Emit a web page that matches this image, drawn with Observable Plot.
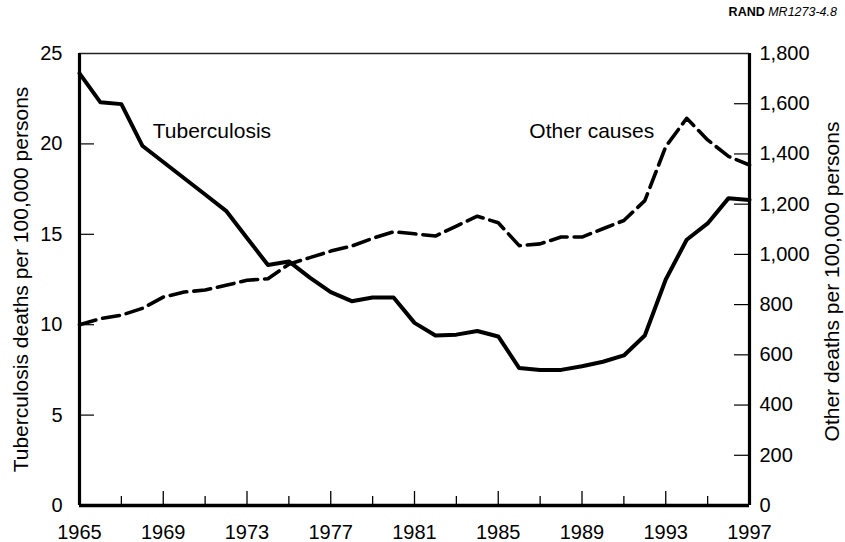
<!DOCTYPE html>
<html>
<head>
<meta charset="utf-8">
<script src="https://cdn.jsdelivr.net/npm/d3@7"></script>
<script src="https://cdn.jsdelivr.net/npm/@observablehq/plot@0.6"></script>
<style>
  html, body { margin: 0; padding: 0; background: #fff; }
  #wrap { position: relative; width: 845px; height: 542px; font-family: "Liberation Sans", Arial, Helvetica, sans-serif; }
  #src { position: absolute; right: 8px; top: 5px; font-size: 12.5px; color: #000; white-space: nowrap; }
  #src b { font-weight: bold; }
  #src i { font-style: italic; }
</style>
</head>
<body>
<div id="wrap"><div id="src"><b>RAND</b> <i>MR1273-4.8</i></div></div>
<script>
const years = d3.range(1965, 1998);
const tuberculosis = [23.9, 22.3, 22.2, 19.9, 19.0, 18.1, 17.2, 16.3, 14.8, 13.3, 13.5, 12.6, 11.8, 11.3, 11.5, 11.5, 10.1, 9.4, 9.45, 9.65, 9.35, 7.6, 7.5, 7.5, 7.7, 7.95, 8.3, 9.4, 12.5, 14.7, 15.6, 17.0, 16.9];
const otherCauses = [720, 744, 758, 785, 830, 850, 858, 877, 897, 903, 961, 987, 1013, 1033, 1064, 1090, 1082, 1073, 1113, 1152, 1126, 1035, 1042, 1069, 1069, 1102, 1135, 1214, 1429, 1542, 1456, 1390, 1356];

const leftTicks = [0, 5, 10, 15, 20, 25];
const rightTicks = [0, 200, 400, 600, 800, 1000, 1200, 1400, 1600, 1800];
const xLabelYears = [1965, 1969, 1973, 1977, 1981, 1985, 1989, 1993, 1997];
const xMajorTickYears = [1969, 1973, 1977, 1981, 1985, 1989, 1993];
const xMinorTickYears = [1967, 1971, 1975, 1979, 1983, 1987, 1991, 1995];

const leftTitle = "Tuberculosis deaths per 100,000 persons";
const rightTitle = "Other deaths per 100,000 persons";
const tbLabel = [{text: "Tuberculosis", year: 1968.5, value: 20.7}];
const otherLabel = [{text: "Other causes", year: 1992.45, value: 20.7}];

const leftMax = 25, rightMax = 1800;
const k = rightMax / leftMax;

const data = years.map((y, i) => ({year: y, tb: tuberculosis[i], other: otherCauses[i]}));

const W = 845, H = 542, mL = 79, mR = 96, mT = 53, mB = 37;
const pw = W - mL - mR, ph = H - mT - mB;
const font = "Liberation Sans, Arial, Helvetica, sans-serif";

const chart = Plot.plot({
  width: W, height: H,
  marginLeft: mL, marginRight: mR, marginTop: mT, marginBottom: mB,
  style: {fontFamily: font, fontSize: "20px", color: "#000", background: "#fff", overflow: "visible"},
  x: {domain: [1965, 1997], axis: null},
  y: {domain: [0, leftMax], axis: null},
  marks: [
    Plot.axisY(leftTicks, {anchor: "left", tickSize: 0, tickPadding: 17, fontSize: 20, label: null, tickFormat: d => String(d)}),
    Plot.axisY(rightTicks.map(v => v / k), {anchor: "right", tickSize: 0, tickPadding: 10, fontSize: 20, label: null, tickFormat: d => d3.format(",")(Math.round(d * k))}),
    Plot.axisX(xLabelYears, {anchor: "bottom", tickSize: 0, tickPadding: 19, fontSize: 20, label: null, tickFormat: d => String(d)}),
    // inward ticks
    Plot.tickY([5, 10, 15, 20], {y: d => d, insetRight: pw - 15, stroke: "#000", strokeWidth: 1.2}),
    Plot.tickY(rightTicks.slice(1, -1).map(v => v / k), {y: d => d, insetLeft: pw - 15, stroke: "#000", strokeWidth: 1.2}),
    Plot.tickX(xMajorTickYears, {x: d => d, insetTop: ph - 14, stroke: "#000", strokeWidth: 1.3}),
    Plot.tickX(xMinorTickYears, {x: d => d, insetTop: ph - 9, stroke: "#000", strokeWidth: 1.3}),
    // frame
    Plot.ruleY([leftMax], {stroke: "#222", strokeWidth: 1.3}),
    Plot.ruleX([1965], {stroke: "#000", strokeWidth: 3.2}),
    Plot.ruleX([1997], {stroke: "#000", strokeWidth: 3.2}),
    Plot.ruleY([0], {stroke: "#000", strokeWidth: 3.4}),
    // series
    Plot.line(data, {x: "year", y: d => d.other / k, stroke: "#000", strokeWidth: 3.6, strokeDasharray: "17,7"}),
    Plot.line(data, {x: "year", y: "tb", stroke: "#000", strokeWidth: 4}),
    // series labels
    Plot.text(tbLabel, {x: "year", y: "value", text: "text", textAnchor: "start", fontSize: 21, fill: "#000"}),
    Plot.text(otherLabel, {x: "year", y: "value", text: "text", textAnchor: "end", fontSize: 21, fill: "#000"}),
    // axis titles
    Plot.text([leftTitle], {frameAnchor: "left", rotate: -90, dx: -58, textAnchor: "middle", fontSize: 21, fill: "#000"}),
    Plot.text([rightTitle], {frameAnchor: "right", rotate: -90, dx: 83, dy: 2, textAnchor: "middle", fontSize: 21, fill: "#000"})
  ]
});
document.getElementById("wrap").appendChild(chart);
</script>
</body>
</html>
